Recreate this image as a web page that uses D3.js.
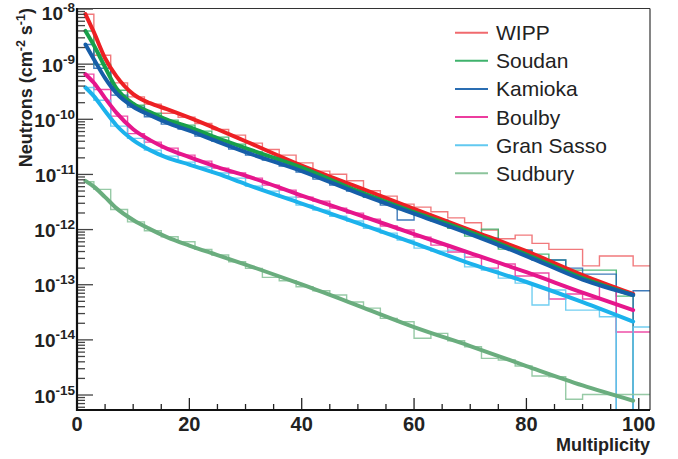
<!DOCTYPE html>
<html>
<head>
<meta charset="utf-8">
<script src="https://cdn.jsdelivr.net/npm/d3@7"></script>
<style>
  body { margin: 0; background: #fff; }
  text { font-family: "Liberation Sans", Arial, Helvetica, sans-serif; }
</style>
</head>
<body>
<svg id="chart" width="678" height="459"></svg>
<script>
// bin edges of the multiplicity histograms (first bin starts at 1.5)
var binEdges = [1.5, 3, 6, 9, 12, 15, 18, 21, 24, 27, 30, 33, 36, 39, 42, 45, 48, 51,
  54, 57, 60, 63, 66, 69, 72, 75, 78, 81, 84, 87, 90, 93, 96, 99, 102];

// histogram contents, neutrons (cm-2 s-1); 0 = empty bin
var wippHist = [8.05e-9, 1.45e-9, 4.57e-10, 2.55e-10, 1.88e-10, 1.29e-10, 1.09e-10, 8.4e-11,
  6.55e-11, 5.16e-11, 3.69e-11, 2.84e-11, 2.24e-11, 1.62e-11, 1.15e-11, 1.01e-11, 7.66e-12,
  5.05e-12, 4.05e-12, 2.9e-12, 2.55e-12, 2.1e-12, 1.63e-12, 1.33e-12, 9.8e-13, 6.8e-13,
  7.94e-13, 5.62e-13, 4.37e-13, 4.37e-13, 2.2e-13, 3.31e-13, 3.31e-13, 2.2e-13];
var soudanHist = [4.0e-9, 9.86e-10, 3.37e-10, 1.8e-10, 1.29e-10, 9.65e-11, 7.83e-11, 6.1e-11,
  4.75e-11, 3.54e-11, 2.57e-11, 2.06e-11, 1.6e-11, 1.22e-11, 8.94e-12, 6.81e-12, 5.2e-12,
  3.88e-12, 2.96e-12, 2.3e-12, 1.83e-12, 1.43e-12, 1.06e-12, 7.62e-13, 1.02e-12, 4.43e-13,
  4.25e-13, 3.59e-13, 2.8e-13, 1.84e-13, 1.84e-13, 1.84e-13, 6.22e-14, 0];
var kamiokaHist = [2.27e-9, 8.45e-10, 2.74e-10, 1.66e-10, 1.11e-10, 8.16e-11, 6.63e-11, 4.95e-11,
  4.02e-11, 2.88e-11, 2.24e-11, 1.82e-11, 1.42e-11, 1.1e-11, 8.22e-12, 6.4e-12, 4.98e-12,
  3.88e-12, 2.78e-12, 1.49e-12, 1.91e-12, 1.49e-12, 1.11e-12, 8.63e-13, 7.0e-13, 4.81e-13,
  4.25e-13, 2.8e-13, 2.8e-13, 2.0e-13, 1.56e-13, 1.56e-13, 0, 7.77e-14];
var boulbyHist = [6.58e-10, 3.47e-10, 1.14e-10, 5.49e-11, 3.85e-11, 3.0e-11, 2.24e-11, 1.74e-11,
  1.3e-11, 1.06e-11, 8.57e-12, 6.4e-12, 5.2e-12, 3.88e-12, 3.28e-12, 2.45e-12, 1.99e-12,
  1.55e-12, 1.16e-12, 9.8e-13, 7.31e-13, 5.23e-13, 3.91e-13, 3.17e-13, 2.0e-13, 2.37e-13,
  1.44e-13, 1.63e-13, 5.5e-14, 6.77e-14, 5.5e-14, 9.45e-14, 1.39e-14, 1.39e-14];
var gransassoHist = [3.78e-10, 2.22e-10, 7.51e-11, 4.5e-11, 2.76e-11, 2.15e-11, 1.67e-11, 1.36e-11,
  1.06e-11, 8.57e-12, 6.14e-12, 4.98e-12, 3.88e-12, 2.78e-12, 2.25e-12, 1.75e-12, 1.43e-12,
  1.06e-12, 8.63e-13, 6.45e-13, 4.62e-13, 4.07e-13, 4.25e-13, 2.11e-13, 1.84e-13, 1.32e-13,
  1.07e-13, 4.28e-14, 8.0e-14, 3.47e-14, 3.47e-14, 2.62e-14, 0, 1.71e-14];
var sudburyHist = [7.35e-12, 5.35e-12, 2.32e-12, 1.38e-12, 9.5e-13, 7.4e-13, 6.0e-13, 4.37e-13,
  3.45e-13, 2.61e-13, 1.98e-13, 1.36e-13, 1.18e-13, 9.18e-14, 7.77e-14, 6.5e-14, 4.85e-14,
  3.77e-14, 2.45e-14, 2.13e-14, 1.07e-14, 1.31e-14, 9.64e-15, 7.5e-15, 4.62e-15, 4.31e-15,
  3.35e-15, 2.21e-15, 2.14e-15, 8.36e-16, 1.02e-15, 1.02e-15, 1.02e-15, 1.02e-15];

// fitted curves, sampled at these multiplicities
var fitX = [1.5, 3, 5, 7, 10, 13, 16, 20, 25, 30, 40, 50, 60, 70, 80, 90, 99];
var wippFit = [8.1e-9, 3.8e-9, 1.28e-9, 6.05e-10, 2.86e-10, 1.96e-10, 1.53e-10, 1.07e-10,
  6.6e-11, 4.0e-11, 1.45e-11, 5.9e-12, 2.37e-12, 9.8e-13, 4.07e-13, 1.5e-13, 6.8e-14];
var soudanFit = [4.0e-9, 2.2e-9, 8.8e-10, 3.67e-10, 1.92e-10, 1.35e-10, 9.85e-11, 7.2e-11,
  4.55e-11, 3.0e-11, 1.33e-11, 4.98e-12, 2.07e-12, 9.0e-13, 3.52e-13, 1.32e-13, 6.5e-14];
var kamiokaFit = [2.27e-9, 1.23e-9, 5.57e-10, 2.98e-10, 1.69e-10, 1.19e-10, 8.7e-11, 6.2e-11,
  3.94e-11, 2.54e-11, 1.15e-11, 4.58e-12, 1.95e-12, 8.3e-13, 3.31e-13, 1.24e-13, 6.5e-14];
var boulbyFit = [6.58e-10, 4.61e-10, 2.42e-10, 1.32e-10, 6.6e-11, 4.19e-11, 2.94e-11, 2.06e-11,
  1.36e-11, 9.5e-12, 4.13e-12, 1.87e-12, 8.3e-13, 3.75e-13, 1.69e-13, 7.2e-14, 3.47e-14];
var gransassoFit = [3.78e-10, 2.63e-10, 1.41e-10, 7.8e-11, 4.19e-11, 2.76e-11, 2.02e-11, 1.51e-11,
  1.03e-11, 6.67e-12, 2.96e-12, 1.31e-12, 5.69e-13, 2.42e-13, 1.12e-13, 4.85e-14, 2.15e-14];
var sudburyFit = [7.66e-12, 6.01e-12, 3.88e-12, 2.45e-12, 1.49e-12, 1.02e-12, 7.31e-13, 5.13e-13,
  3.45e-13, 2.32e-13, 1.01e-13, 4.19e-14, 1.71e-14, 7.73e-15, 3.35e-15, 1.49e-15, 7.88e-16];

var sites = ["WIPP", "Soudan", "Kamioka", "Boulby", "Gran Sasso", "Sudbury"];
var xTicks = [0, 20, 40, 60, 80, 100];
var yDecades = [-15, -14, -13, -12, -11, -10, -9, -8];

var series = [
  {name: sites[0], hist: wippHist, fit: wippFit, color: "#ed2024", hcolor: "#f06a6e"},
  {name: sites[1], hist: soudanHist, fit: soudanFit, color: "#17a04a", hcolor: "#3fb26c"},
  {name: sites[2], hist: kamiokaHist, fit: kamiokaFit, color: "#165ea8", hcolor: "#2a6db2"},
  {name: sites[3], hist: boulbyHist, fit: boulbyFit, color: "#e6168c", hcolor: "#ec3c9e"},
  {name: sites[4], hist: gransassoHist, fit: gransassoFit, color: "#1cb2ec", hcolor: "#62c9f0"},
  {name: sites[5], hist: sudburyHist, fit: sudburyFit, color: "#6aad7e", hcolor: "#8cc49c"}
];

var svg = d3.select("#chart");
// plot box in pixels
var padL = 77, padR = 650, padT = 9, padB = 410;

var x = d3.scaleLinear().domain([0, 102]).range([padL, padR]);
var y = d3.scaleLog().domain([5.35e-16, 1e-8]).range([padB, padT]);

var plot = svg.append("g").attr("class", "plot");

// histograms as step outlines, empty bins fall to the axis
function histPath(vals) {
  var pts = [];
  vals.forEach(function (v, i) {
    var yy = v > 0 ? y(v) : padB;
    pts.push([x(binEdges[i]), yy], [x(binEdges[i + 1]), yy]);
  });
  return d3.line()(pts);
}

series.forEach(function (s) {
  plot.append("path")
    .attr("d", histPath(s.hist))
    .attr("fill", "none")
    .attr("stroke", s.hcolor)
    .attr("stroke-width", 1.4)
    .attr("stroke-opacity", 0.9);
});

var fitLine = d3.line()
  .x(function (d) { return x(d[0]); })
  .y(function (d) { return y(d[1]); })
  .curve(d3.curveMonotoneX);

series.forEach(function (s) {
  plot.append("path")
    .attr("d", fitLine(fitX.map(function (m, i) { return [m, s.fit[i]]; })))
    .attr("fill", "none")
    .attr("stroke", s.color)
    .attr("stroke-width", 4)
    .attr("stroke-linecap", "round");
});

// frame
svg.append("line").attr("x1", padL).attr("x2", padR).attr("y1", padT - 0.5).attr("y2", padT - 0.5)
  .attr("stroke", "#333").attr("stroke-width", 1.2);
svg.append("line").attr("x1", padR).attr("x2", padR).attr("y1", padT - 0.5).attr("y2", padB)
  .attr("stroke", "#333").attr("stroke-width", 1.2);

// y axis: log ticks pointing inwards
var ax = svg.append("g").attr("class", "axes");
var minor = [];
for (var e = -16; e <= -9; e++) {
  for (var k = 2; k <= 9; k++) {
    var v = k * Math.pow(10, e);
    if (v >= y.domain()[0] && v <= y.domain()[1]) minor.push(v);
  }
}
ax.selectAll(".ymin").data(minor).enter().append("line")
  .attr("x1", padL).attr("x2", padL + 8)
  .attr("y1", function (d) { return y(d); }).attr("y2", function (d) { return y(d); })
  .attr("stroke", "#444").attr("stroke-width", 1.3);
ax.selectAll(".ymaj").data(yDecades).enter().append("line")
  .attr("x1", padL).attr("x2", padL + 16)
  .attr("y1", function (d) { return y(Math.pow(10, d)); })
  .attr("y2", function (d) { return y(Math.pow(10, d)); })
  .attr("stroke", "#444").attr("stroke-width", 1.3);

var ylab = ax.selectAll(".ylab").data(yDecades).enter().append("text")
  .attr("x", padL - 2)
  .attr("y", function (d) { return Math.max(y(Math.pow(10, d)) + 7.5, 20); })
  .attr("text-anchor", "end")
  .attr("font-size", 19).attr("font-weight", "bold").attr("fill", "#222");
ylab.append("tspan").text("10");
ylab.append("tspan").attr("dy", -8).attr("font-size", 13.5).text(function (d) { return d; });

// x axis ticks
var xMinor = d3.range(5, 101, 5).filter(function (d) { return d % 20 != 0; });
ax.selectAll(".xmin").data(xMinor).enter().append("line")
  .attr("x1", function (d) { return x(d); }).attr("x2", function (d) { return x(d); })
  .attr("y1", padB).attr("y2", padB - 6)
  .attr("stroke", "#222").attr("stroke-width", 1.3);
ax.selectAll(".xmaj").data(xTicks).enter().append("line")
  .attr("x1", function (d) { return x(d); }).attr("x2", function (d) { return x(d); })
  .attr("y1", padB).attr("y2", padB - 12)
  .attr("stroke", "#222").attr("stroke-width", 1.3);
ax.selectAll(".xlab").data(xTicks).enter().append("text")
  .attr("x", function (d) { return x(d); })
  .attr("y", 431)
  .attr("text-anchor", "middle")
  .attr("font-size", 20).attr("font-weight", "bold").attr("fill", "#222")
  .text(function (d) { return d; });

// axis lines
ax.append("line").attr("x1", padL).attr("x2", padL).attr("y1", padT - 1).attr("y2", padB + 1)
  .attr("stroke", "#111").attr("stroke-width", 2.2);
ax.append("line").attr("x1", padL - 1).attr("x2", padR).attr("y1", padB).attr("y2", padB)
  .attr("stroke", "#111").attr("stroke-width", 2.2);

// axis titles
svg.append("text")
  .attr("x", padR).attr("y", 451)
  .attr("text-anchor", "end")
  .attr("font-size", 18).attr("font-weight", "bold").attr("fill", "#222")
  .text("Multiplicity");

var yt = svg.append("text")
  .attr("transform", "translate(32,8) rotate(-90)")
  .attr("text-anchor", "end")
  .attr("font-size", 18).attr("font-weight", "bold").attr("fill", "#222");
yt.append("tspan").text("Neutrons (cm");
yt.append("tspan").attr("dy", -7).attr("font-size", 12.5).text("-2");
yt.append("tspan").attr("dy", 7).text(" s");
yt.append("tspan").attr("dy", -7).attr("font-size", 12.5).text("-1");
yt.append("tspan").attr("dy", 7).text(")");

// legend
var legend = svg.append("g").attr("class", "legend");
var rowY = d3.scaleLinear().domain([0, sites.length - 1]).range([32.7, 173.3]);
series.forEach(function (s, i) {
  legend.append("line")
    .attr("x1", 455).attr("x2", 488)
    .attr("y1", rowY(i)).attr("y2", rowY(i))
    .attr("stroke", s.hcolor).attr("stroke-width", 2);
  legend.append("text")
    .attr("x", 496).attr("y", rowY(i) + 7.5)
    .attr("font-size", 21).attr("fill", "#222")
    .text(s.name);
});
</script>
</body>
</html>
